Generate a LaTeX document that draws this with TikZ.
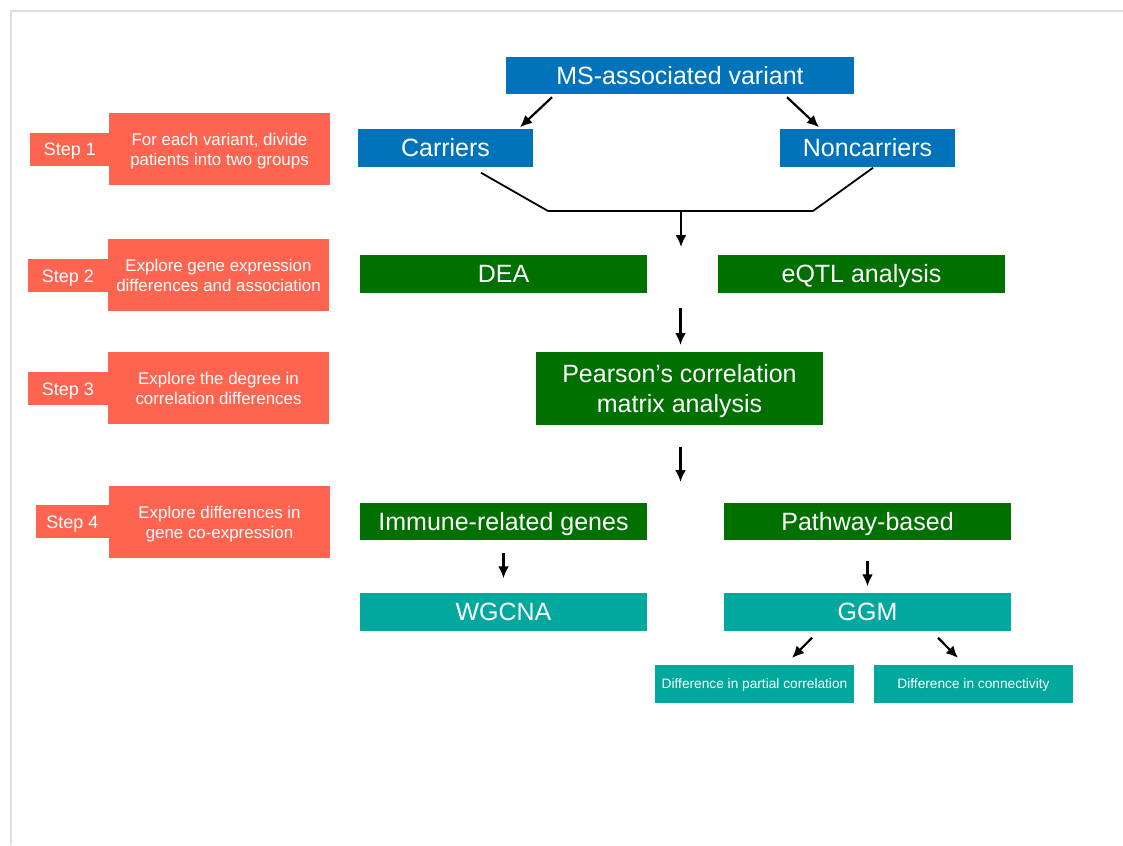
\documentclass[tikz,border=0pt]{standalone}
\usepackage{fontspec}
\setmainfont{Liberation Sans}
\usetikzlibrary{arrows.meta}
\definecolor{cblue}{RGB}{0,115,187}
\definecolor{cgreen}{RGB}{0,112,0}
\definecolor{cteal}{RGB}{0,168,157}
\definecolor{ccoral}{RGB}{255,100,80}
\definecolor{cframe}{RGB}{222,222,222}
\begin{document}
\begin{tikzpicture}[x=1pt,y=-1pt,
  base/.style={inner sep=0pt,outer sep=0pt,text=white,align=center},
  bigbox/.style={base,font=\fontsize{25}{30}\selectfont,minimum height=37.5pt,text height=17.8pt,text depth=0pt},
  bluebox/.style={bigbox,fill=cblue},
  greenbox/.style={bigbox,fill=cgreen,minimum width=287pt},
  tealbox/.style={bigbox,fill=cteal,minimum width=287pt},
  twoline/.style={text height=47pt,text depth=0pt},
  smallbox/.style={base,fill=cteal,font=\fontsize{13.7}{16}\selectfont,minimum width=199pt,minimum height=38pt,text height=9.8pt,text depth=0pt},
  steplab/.style={base,fill=ccoral,font=\fontsize{18}{20}\selectfont,minimum width=80pt,minimum height=33pt,text height=13pt,text depth=0pt},
  stepbox/.style={base,fill=ccoral,font=\fontsize{16.9}{20.5}\selectfont,minimum width=221pt,minimum height=72pt,text height=33pt,text depth=0pt},
  arr/.style={-{Latex[length=12pt,width=11pt]},line width=2.2pt},
  ln/.style={line width=1.8pt}
]
\useasboundingbox (0,0) rectangle (1123,845);
\draw[cframe,line width=1.2pt] (11,845) -- (11,11) -- (1123,11);

% steps
\node[steplab] (s1lab) at (70,149.5) {Step 1};
\node[stepbox] (s1) at (219.5,149) {For each variant, divide\\patients into two groups};
\node[steplab] (s2lab) at (68,275.5) {Step 2};
\node[stepbox] (s2) at (218.5,275) {Explore gene expression\\differences and association};
\node[steplab] (s3lab) at (68,388.5) {Step 3};
\node[stepbox] (s3) at (218.5,388) {Explore the degree in\\correlation differences};
\node[steplab,minimum width=73pt] (s4lab) at (72.5,521.5) {Step 4};
\node[stepbox] (s4) at (219.5,522) {Explore differences in\\gene co-expression};

% flow
\node[bluebox,minimum width=348pt] (ms) at (680,75.5) {MS-associated variant};
\node[bluebox,minimum width=175pt] (car) at (445.5,148) {Carriers};
\node[bluebox,minimum width=175pt] (non) at (867.5,148) {Noncarriers};
\node[greenbox] (dea) at (503.5,274) {DEA};
\node[greenbox] (eqtl) at (861.5,274) {eQTL analysis};
\node[greenbox,minimum height=73pt,twoline] (pear) at (679.5,388.5) {Pearson’s correlation\\matrix analysis};
\node[greenbox] (imm) at (503.5,521.5) {Immune-related genes};
\node[greenbox] (path) at (867.5,521.5) {Pathway-based};
\node[tealbox] (wgcna) at (503.5,612) {WGCNA};
\node[tealbox] (ggm) at (867.5,612) {GGM};
\node[smallbox] (pc) at (754.5,684) {Difference in partial correlation};
\node[smallbox] (conn) at (973.5,684) {Difference in connectivity};

% connectors
\draw[arr] ([xshift=46pt,yshift=-3pt]ms.south west) -- ([xshift=162pt,yshift=2pt]car.north west);
\draw[arr] ([xshift=-67pt,yshift=-3pt]ms.south east) -- ([xshift=39pt,yshift=2pt]non.north west);
\coordinate (j1) at (548,211);
\coordinate (j2) at (813,211);
\coordinate (jm) at (681,211);
\coordinate (a1) at (681,247);
\draw[ln] ([xshift=123pt,yshift=-6pt]car.south west) -- (j1);
\draw[ln] ([xshift=93pt,yshift=-1pt]non.south west) -- (j2);
\draw[line width=2.4pt] (j1) -- (j2);
\draw[arr] (jm) -- (a1);
\draw[arr] ([xshift=1pt,yshift=44pt]pear.north) -- ([xshift=1pt,yshift=7pt]pear.north);
\draw[arr] ([xshift=1pt,yshift=-22pt]pear.south) -- ([xshift=1pt,yshift=-57pt]pear.south);
\draw[arr] ([yshift=-13pt]imm.south) -- ([yshift=15pt]wgcna.north);
\draw[arr] ([yshift=-21pt]path.south) -- ([yshift=7pt]ggm.north);
\draw[arr] ([xshift=-55.5pt,yshift=-7pt]ggm.south) -- ([xshift=37.5pt,yshift=7pt]pc.north);
\draw[arr] ([xshift=70.5pt,yshift=-7pt]ggm.south) -- ([xshift=-15.5pt,yshift=7pt]conn.north);
\end{tikzpicture}
\end{document}
